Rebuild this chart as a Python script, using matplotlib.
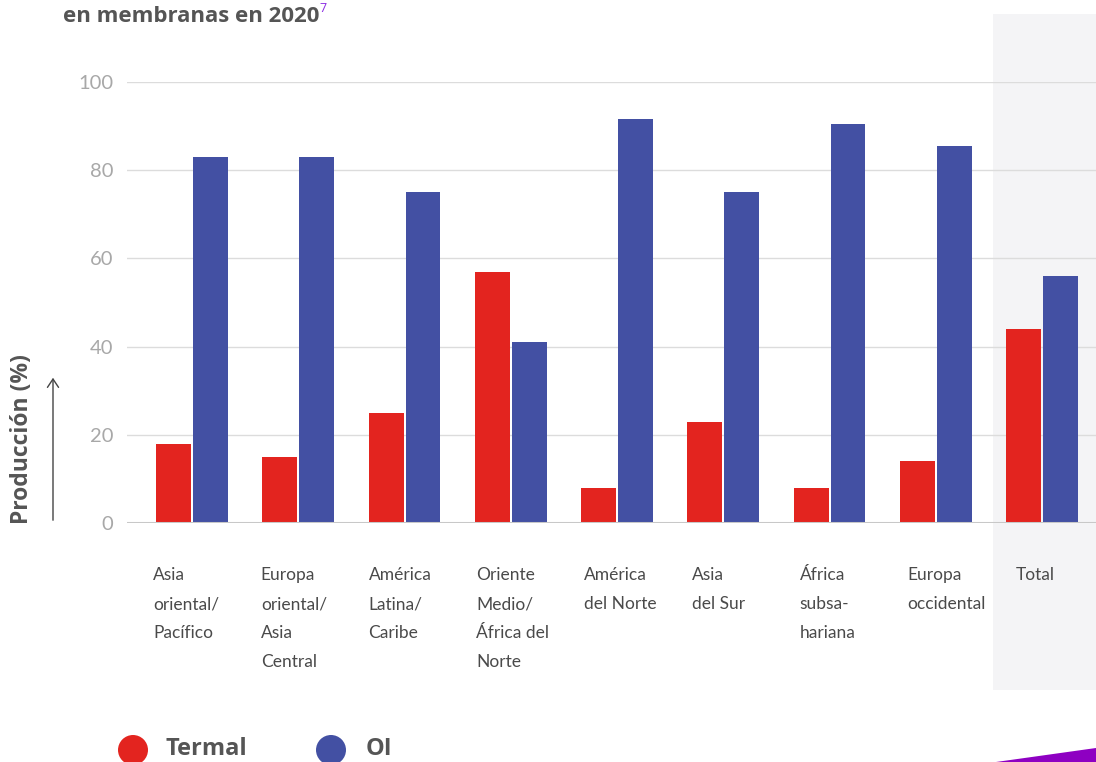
import matplotlib
matplotlib.use("Agg")
import matplotlib.pyplot as plt
from matplotlib.patches import Rectangle, Polygon, Circle
import matplotlib.transforms as mtransforms

categories = ["Asia\noriental/\nPacífico", "Europa\noriental/\nAsia\nCentral",
              "América\nLatina/\nCaribe", "Oriente\nMedio/\nÁfrica del\nNorte",
              "América\ndel Norte", "Asia\ndel Sur", "África\nsubsa-\nhariana",
              "Europa\noccidental", "Total"]
termal = [18, 15, 25, 57, 8, 23, 8, 14, 44]
oi = [83, 83, 75, 41, 91.5, 75, 90.5, 85.5, 56]
yticks = [0, 20, 40, 60, 80, 100]

W, H = 1096, 762
fig = plt.figure(figsize=(W / 100, H / 100), dpi=100)
plt.rcParams['font.family'] = ['Lato', 'DejaVu Sans']

def fx(px): return px / W
def fy(py): return 1 - py / H

# Total highlight background
fig.patches.append(Rectangle((fx(993), fy(690)), fx(1096) - fx(993), fy(14) - fy(690),
                             transform=fig.transFigure, facecolor="#f4f4f6", edgecolor="none", zorder=0))

ax_l, ax_r, ax_top, ax_bot = 127, 1096, 82, 523
ax = fig.add_axes([fx(ax_l), fy(ax_bot), fx(ax_r) - fx(ax_l), fy(ax_top) - fy(ax_bot)])
ax.set_zorder(2)
ax.patch.set_alpha(0)
ax.set_ylim(0, 100)
ax.set_xlim(-0.612, 8.508)

red, blue = "#e3241f", "#4350a3"
bw = 0.329
off = 0.174
x = list(range(len(categories)))
ax.bar([i - off for i in x], termal, width=bw, color=red, zorder=3)
ax.bar([i + off for i in x], oi, width=bw, color=blue, zorder=3)

for t in yticks:
    if t == 0:
        ax.axhline(t, color="#c8c8c8", lw=2.2, zorder=4)
    else:
        ax.axhline(t, color="#dcdcdc", lw=1, zorder=1)
for s in ax.spines.values():
    s.set_visible(False)
ax.set_xticks([])
ax.set_yticks(yticks)
ax.set_yticklabels([str(t) for t in yticks], color="#a8a8a8", fontsize=14.5)
ax.tick_params(axis="y", length=0, pad=10)

# category labels (label columns spaced slightly wider than bar groups)
for i, c in enumerate(categories):
    xl = 153 + 107.8 * i
    for j, line in enumerate(c.split("\n")):
        fig.text(fx(xl), fy(575 + 29 * j), line, fontsize=12.5,
                 color="#4a4a4a", ha="left", va="center")

# y label and arrow
fig.text(fx(22), fy(439), "Producción (%)", rotation=90, fontsize=16.5, fontweight="bold",
         color="#555555", ha="center", va="center", family=["Open Sans", "DejaVu Sans"])
fig.add_artist(matplotlib.patches.FancyArrowPatch((fx(53), fy(523)), (fx(53), fy(375)),
               transform=fig.transFigure, arrowstyle="->,head_length=6,head_width=4",
               color="#444444", lw=1, mutation_scale=1))

# title
fig.text(fx(63), fy(16), "en membranas en 2020", fontsize=16, fontweight="bold",
         color="#555555", ha="left", va="center", family=["Open Sans", "DejaVu Sans"])
fig.text(fx(319), fy(9), "7", fontsize=9, color="#8a2be2", ha="left", va="center",
         family=["Open Sans", "DejaVu Sans"])

# legend
ident = mtransforms.IdentityTransform()
for cx, col, lab, tx in [(133, red, "Termal", 166), (331, blue, "OI", 366)]:
    fig.patches.append(Circle((cx, H - 750), 15, transform=ident,
                              facecolor=col, edgecolor="none"))
    fig.text(fx(tx), fy(749), lab, fontsize=17, fontweight="bold", color="#555555",
             ha="left", va="center", family=["Open Sans", "DejaVu Sans"])

# purple corner
fig.patches.append(Polygon([(fx(996), fy(762)), (fx(1096), fy(748)), (fx(1096), fy(762))],
                           closed=True, transform=fig.transFigure, facecolor="#8e00c2",
                           edgecolor="none"))

fig.savefig("out.png", dpi=100)
